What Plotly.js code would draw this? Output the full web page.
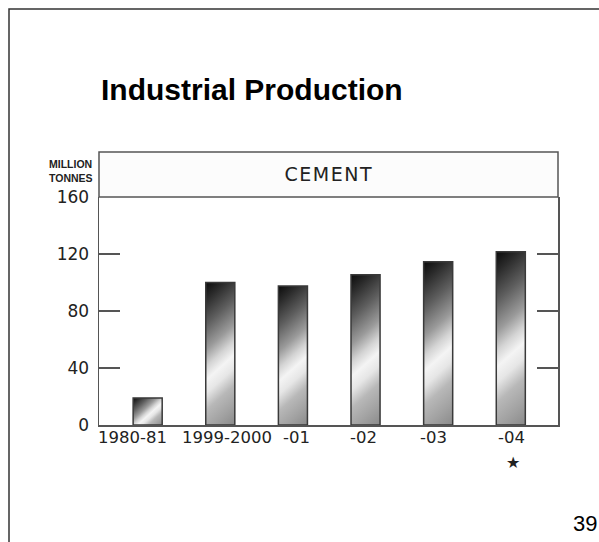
<!DOCTYPE html>
<html>
<head>
<meta charset="utf-8">
<script src="https://cdn.plot.ly/plotly-3.0.1.min.js"></script>
<style>
  html, body { margin: 0; padding: 0; background: #fff; }
  #chart { width: 599px; height: 542px; }
</style>
</head>
<body>
<div id="chart"></div>
<script>
// ---- data ----
const categories = ['1980-81', '1999-2000', '-01', '-02', '-03', '-04'];
const cementValues = [19, 100, 97.5, 105.5, 114.5, 121.5];
const xTickLabels = ['1980-81', '1999-2000', '-01', '-02', '-03', '-04'];
const yTickValues = [0, 40, 80, 120, 160];
const yTickLabels = ['0', '40', '80', '120', '160'];
const slideTitle = 'Industrial Production';
const panelTitle = 'CEMENT';
const unitLabel = 'MILLION<br>TONNES';
const provisionalMark = '★';
const provisionalCategory = '-04';
const pageNumber = '39';

// horizontal nudges (px) of the category labels, as set in the printed original
const xLabelShift = [-15, 7, 4, -2.5, -4.5, 1];

// plot area in pixels: x 99..558, y 197..425
const L = 99, R = 599 - 558, T = 197, B = 542 - 425;
const PW = 599 - L - R, PH = 542 - T - B;
const px = v => (v - L) / PW;          // pixel x -> paper x
const py = v => (542 - B - v) / PH;    // pixel y -> paper y

const axisColor = '#555';
const textColor = '#222';

const trace = {
  type: 'bar',
  x: categories,
  y: cementValues,
  width: 0.4,
  marker: { color: '#999', line: { color: '#3a3a3a', width: 1.5 } },
  hoverinfo: 'skip'
};

const categoryLabels = xTickLabels.map((t, i) => ({
  text: t, xref: 'x', yref: 'paper',
  x: categories.indexOf(categories[i]), y: py(437),
  xanchor: 'center', yanchor: 'middle', xshift: xLabelShift[i],
  showarrow: false,
  font: { family: 'DejaVu Sans, sans-serif', size: 16.5, color: textColor }
}));

const layout = {
  width: 599, height: 542,
  margin: { l: L, r: R, t: T, b: B, pad: 0 },
  paper_bgcolor: '#fff', plot_bgcolor: '#fff',
  showlegend: false,
  font: { family: 'DejaVu Sans, sans-serif', color: textColor },
  xaxis: {
    type: 'category',
    range: [-0.67, 5.65],
    showticklabels: false,
    showline: true, linecolor: axisColor, linewidth: 1.5,
    ticks: '', showgrid: false, zeroline: false,
    fixedrange: true
  },
  yaxis: {
    range: [0, 160],
    tickvals: yTickValues, ticktext: yTickLabels,
    showline: true, linecolor: axisColor, linewidth: 1.5, mirror: 'ticks',
    ticks: 'inside', ticklen: 21, tickwidth: 1.5, tickcolor: axisColor,
    ticklabelstandoff: 5,
    showgrid: false, zeroline: false,
    tickfont: { size: 17, color: textColor, family: 'DejaVu Sans, sans-serif' },
    fixedrange: true
  },
  shapes: [
    // slide frame
    { type: 'rect', xref: 'paper', yref: 'paper',
      x0: px(9), x1: px(640), y0: py(600), y1: py(9),
      line: { color: '#333', width: 1.5 }, fillcolor: 'rgba(0,0,0,0)', layer: 'below' },
    // header band
    { type: 'rect', xref: 'paper', yref: 'paper',
      x0: 0, x1: 1, y0: 1, y1: py(152),
      line: { color: axisColor, width: 1.5 }, fillcolor: '#fcfcfc', layer: 'below' }
  ],
  annotations: [
    { text: '<b>' + slideTitle + '</b>', xref: 'paper', yref: 'paper',
      x: px(99), y: py(89), xanchor: 'left', yanchor: 'middle', showarrow: false,
      font: { family: 'Liberation Sans, Arial, sans-serif', size: 30, color: '#000' } },
    { text: panelTitle, xref: 'paper', yref: 'paper',
      x: 0.5, y: py(174), xanchor: 'center', yanchor: 'middle', showarrow: false,
      font: { family: 'DejaVu Sans, sans-serif', size: 19, color: '#222' } },
    { text: '<b>' + unitLabel + '</b>', xref: 'paper', yref: 'paper',
      x: px(47), y: py(171), xanchor: 'left', yanchor: 'middle', align: 'left',
      showarrow: false,
      font: { family: 'Liberation Sans, Arial, sans-serif', size: 10.5, color: '#222' } },
    ...categoryLabels,
    { text: provisionalMark, xref: 'x', yref: 'paper',
      x: categories.indexOf(provisionalCategory), y: py(462), xanchor: 'center', yanchor: 'middle',
      xshift: 2, showarrow: false,
      font: { family: 'DejaVu Sans, sans-serif', size: 16, color: '#222' } },
    { text: pageNumber, xref: 'paper', yref: 'paper',
      x: px(599), y: py(523), xanchor: 'right', yanchor: 'middle', showarrow: false,
      font: { family: 'Liberation Sans, Arial, sans-serif', size: 22, color: '#000' } }
  ]
};

Plotly.newPlot('chart', [trace], layout, { displayModeBar: false, staticPlot: true }).then(gd => {
  const NS = 'http://www.w3.org/2000/svg';
  const svg = gd.querySelector('svg.main-svg');
  let defs = svg.querySelector('defs');
  if (!defs) { defs = document.createElementNS(NS, 'defs'); svg.insertBefore(defs, svg.firstChild); }
  const stops = [
    [0.00, '#0b0b0b'], [0.10, '#2a2a2a'], [0.25, '#5e5e5e'], [0.40, '#9a9a9a'],
    [0.50, '#d4d4d4'], [0.58, '#f4f4f4'], [0.66, '#e6e6e6'], [0.76, '#b8b8b8'],
    [0.88, '#a2a2a2'], [1.00, '#8a8a8a']
  ];
  const s = 0.9;
  gd.querySelectorAll('.bars .point path').forEach((p, i) => {
    const bb = p.getBBox();
    const k = (bb.width * s + bb.height) / (s * s + 1);
    const g = document.createElementNS(NS, 'linearGradient');
    g.setAttribute('id', 'bargrad' + i);
    g.setAttribute('gradientUnits', 'userSpaceOnUse');
    g.setAttribute('x1', bb.x); g.setAttribute('y1', bb.y);
    g.setAttribute('x2', bb.x + k * s); g.setAttribute('y2', bb.y + k);
    stops.forEach(([o, c]) => {
      const st = document.createElementNS(NS, 'stop');
      st.setAttribute('offset', o); st.setAttribute('stop-color', c);
      g.appendChild(st);
    });
    defs.appendChild(g);
    p.style.fill = 'url(#bargrad' + i + ')';
  });
  // the printed header text is set slightly wide
  gd.querySelectorAll('.annotation-text').forEach(t => {
    if (t.textContent === panelTitle) t.style.letterSpacing = '1.5px';
  });
});
</script>
</body>
</html>
